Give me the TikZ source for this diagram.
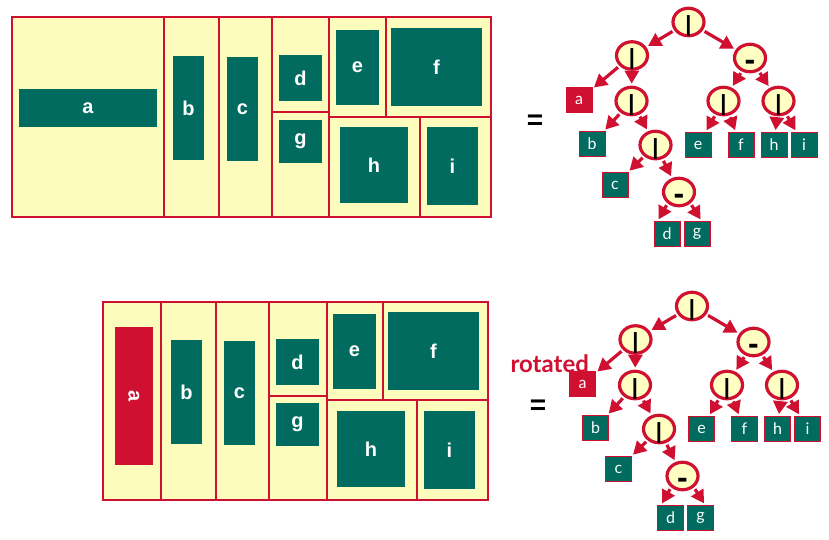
\documentclass[tikz,border=0pt]{standalone}
\usepackage{fontspec}
\setmainfont{Liberation Sans}
\newfontfamily\leaffont{Lato}
\usepackage{tikz}
\usetikzlibrary{shapes.geometric, arrows.meta, positioning}
\definecolor{PlanCream}{RGB}{252,252,188}
\definecolor{OpCream}{RGB}{255,255,196}
\definecolor{BlockGreen}{RGB}{0,107,94}
\definecolor{CutRed}{RGB}{208,16,48}
\newcommand{\vcut}{\smash{\raisebox{-9pt}{|}}}
\newcommand{\hcut}{\smash{\raisebox{-12pt}{\fontsize{32}{32}\selectfont -}}}

\begin{document}
\begin{tikzpicture}[
    x=1pt, y=-1pt,
    room/.style={draw=CutRed, line width=1.3pt},
    blk/.style={
        rectangle, inner sep=0pt, fill=BlockGreen, text=white,
        font=\fontsize{20}{20}\selectfont\bfseries
    },
    rotblk/.style={blk, fill=CutRed},
    opnode/.style={
        ellipse, inner sep=0pt, minimum width=31pt, minimum height=27.5pt,
        draw=CutRed, line width=3.2pt, fill=OpCream,
        font=\fontsize{22}{22}\selectfont\bfseries
    },
    leaf/.style={
        rectangle, inner sep=0pt, minimum width=26pt, minimum height=25pt,
        draw=CutRed, line width=0.8pt, fill=BlockGreen, text=white,
        font=\leaffont\fontsize{16}{16}\selectfont
    },
    rotleaf/.style={leaf, fill=CutRed},
    eqsign/.style={font=\fontsize{28}{28}\selectfont\bfseries},
    note/.style={font=\leaffont\fontsize{24}{24}\selectfont\bfseries, text=CutRed},
    arr/.style={-{Triangle[length=13pt, width=14pt]}, line width=3.2pt, CutRed,
        shorten <=2pt, shorten >=2pt}
]
\useasboundingbox (0,0) rectangle (829,539);

% ===================================================================
% TOP: floorplan with block a lying flat
% ===================================================================
\fill[PlanCream] (12,17) rectangle (491,217);
\draw[room] (12,17) rectangle (491,217);
\draw[room] (164,17) -- (164,217);
\draw[room] (219,17) -- (219,217);
\draw[room] (272,17) -- (272,217);
\draw[room] (329,17) -- (329,217);
\draw[room] (272,112) -- (329,112);
\draw[room] (329,117) -- (491,117);
\draw[room] (386,17) -- (386,117);
\draw[room] (420,117) -- (420,217);

\node[blk, minimum width=138pt, minimum height=38pt] (pa) at (88,108) {a};
\node[blk, minimum width=31pt, minimum height=104pt] (pb) at (188.5,108) {b};
\node[blk, minimum width=31pt, minimum height=104pt] (pc) at (242.5,109) {c};
\node[blk, minimum width=43pt, minimum height=46pt] (pd) at (300.5,78) {d};
\node[blk, minimum width=43pt, minimum height=43pt] (pg) at (300.5,141.5) {g};
\node[blk, minimum width=43pt, minimum height=75pt] (pe) at (357.5,67.5) {e};
\node[blk, minimum width=91pt, minimum height=78pt] (pf) at (436.5,67) {f};
\node[blk, minimum width=68pt, minimum height=76pt] (ph) at (374,165) {h};
\node[blk, minimum width=51pt, minimum height=78pt] (pi) at (452.5,166) {i};

\node[eqsign] (t-eq) at (535,122) {=};

% --- slicing tree (top) ---
\begin{scope}[name prefix=t-]
\node[opnode] (root) at (688.5,22) {\vcut};
\node[opnode] (n1) at (632,55.5) {\vcut};
\node[opnode] (n2) at (750,58) {\hcut};
\node[rotleaf] (la) at (579,100) {a};
\node[opnode] (n3) at (631.5,101) {\vcut};
\node[leaf] (lb) at (592,144) {b};
\node[opnode] (n4) at (655.5,145) {\vcut};
\node[leaf] (lc) at (615,185) {c};
\node[opnode] (n5) at (679,192) {\hcut};
\node[leaf] (ld) at (667,234) {d};
\node[leaf] (lg) at (697,234) {g};
\node[opnode] (n6) at (723.5,101) {\vcut};
\node[opnode] (n7) at (778.5,101) {\vcut};
\node[leaf] (le) at (698,145) {e};
\node[leaf] (lf) at (741,145) {f};
\node[leaf] (lh) at (774,145) {h};
\node[leaf] (li) at (804,145) {i};

\draw[arr] (root) -- (n1);
\draw[arr] (root) -- (n2);
\draw[arr] (n1) -- (la);
\draw[arr] (n1) -- (n3);
\draw[arr] (n3) -- (lb);
\draw[arr] (n3) -- (n4);
\draw[arr] (n4) -- (lc);
\draw[arr] (n4) -- (n5);
\draw[arr] (n5.225) -- (ld.126);
\draw[arr] (n5.315) -- (lg.70);
\draw[arr] (n2) -- (n6);
\draw[arr] (n2) -- (n7);
\draw[arr] (n6) -- (le);
\draw[arr] (n6) -- (lf);
\draw[arr] (n7) -- (lh);
\draw[arr] (n7) -- (li);
\end{scope}

% ===================================================================
% BOTTOM: floorplan with block a rotated
% ===================================================================
\fill[PlanCream] (103,302) rectangle (488,500);
\draw[room] (103,302) rectangle (488,500);
\draw[room] (161,302) -- (161,500);
\draw[room] (216,302) -- (216,500);
\draw[room] (269,302) -- (269,500);
\draw[room] (327,302) -- (327,500);
\draw[room] (269,396) -- (327,396);
\draw[room] (327,400) -- (488,400);
\draw[room] (383,302) -- (383,400);
\draw[room] (417,400) -- (417,500);

\node[rotblk, minimum width=38pt, minimum height=138pt] (qa) at (134,396)
    {\rotatebox{-90}{a}};
\node[blk, minimum width=31pt, minimum height=104pt] (qb) at (186.5,392) {b};
\node[blk, minimum width=31pt, minimum height=104pt] (qc) at (239.5,393) {c};
\node[blk, minimum width=43pt, minimum height=46pt] (qd) at (297.5,362) {d};
\node[blk, minimum width=43pt, minimum height=43pt] (qg) at (297.5,424.5) {g};
\node[blk, minimum width=43pt, minimum height=75pt] (qe) at (354.5,351.5) {e};
\node[blk, minimum width=91pt, minimum height=78pt] (qf) at (433.5,351) {f};
\node[blk, minimum width=68pt, minimum height=76pt] (qh) at (371,449) {h};
\node[blk, minimum width=51pt, minimum height=78pt] (qi) at (449.5,450) {i};

\node[eqsign] (b-eq) at (538,407) {=};

% --- slicing tree (bottom) ---
\begin{scope}[shift={(3.5,284)}, name prefix=b-]
\node[opnode] (root) at (688.5,22) {\vcut};
\node[opnode] (n1) at (632,55.5) {\vcut};
\node[opnode] (n2) at (750,58) {\hcut};
\node[rotleaf] (la) at (579,100) {a};
\node[opnode] (n3) at (631.5,101) {\vcut};
\node[leaf] (lb) at (592,144) {b};
\node[opnode] (n4) at (655.5,145) {\vcut};
\node[leaf] (lc) at (615,185) {c};
\node[opnode] (n5) at (679,192) {\hcut};
\node[leaf] (ld) at (667,234) {d};
\node[leaf] (lg) at (697,234) {g};
\node[opnode] (n6) at (723.5,101) {\vcut};
\node[opnode] (n7) at (778.5,101) {\vcut};
\node[leaf] (le) at (698,145) {e};
\node[leaf] (lf) at (741,145) {f};
\node[leaf] (lh) at (774,145) {h};
\node[leaf] (li) at (804,145) {i};
\node[note, anchor=base west] (note) at (503.5,88) {rotated};

\draw[arr] (root) -- (n1);
\draw[arr] (root) -- (n2);
\draw[arr] (n1) -- (la);
\draw[arr] (n1) -- (n3);
\draw[arr] (n3) -- (lb);
\draw[arr] (n3) -- (n4);
\draw[arr] (n4) -- (lc);
\draw[arr] (n4) -- (n5);
\draw[arr] (n5.225) -- (ld.126);
\draw[arr] (n5.315) -- (lg.70);
\draw[arr] (n2) -- (n6);
\draw[arr] (n2) -- (n7);
\draw[arr] (n6) -- (le);
\draw[arr] (n6) -- (lf);
\draw[arr] (n7) -- (lh);
\draw[arr] (n7) -- (li);
\end{scope}

\end{tikzpicture}
\end{document}
